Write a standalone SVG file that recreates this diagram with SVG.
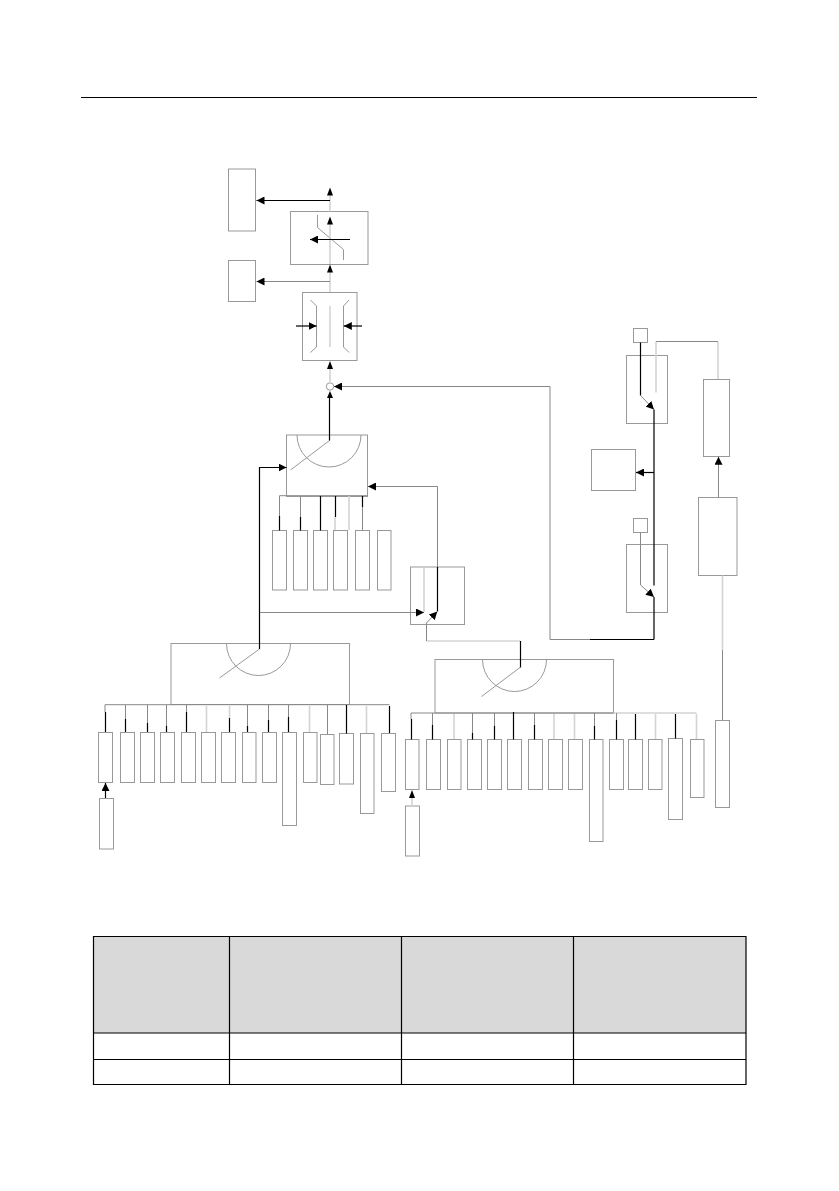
<svg xmlns="http://www.w3.org/2000/svg" width="839" height="1191" viewBox="0 0 839 1191">
<style>
.n{fill:#fff;stroke:#999;stroke-width:1}
.m{fill:none;stroke:#999;stroke-width:1}
.g{fill:none;stroke:#888;stroke-width:1}
.l{fill:none;stroke:#d4d4d4;stroke-width:1.6}
.k{fill:none;stroke:#000;stroke-width:1.2}
.t{fill:none;stroke:#000;stroke-width:1.2}
.h{fill:#d9d9d9;stroke:none}
.ah{fill:#000}
</style>
<defs>
<marker id="a" markerUnits="userSpaceOnUse" markerWidth="9" markerHeight="8" refX="8" refY="4" orient="auto"><path d="M0 0L8 4L0 8Z" fill="#000"/></marker>
</defs>
<path d="M81 97.5H757" stroke="#000" stroke-width="1" fill="none"/>
<g id="nodes-top">
<g id="out1"><rect class="n" x="228.5" y="169" width="27" height="62"/></g>
<g id="out2"><rect class="n" x="228.5" y="260.5" width="27" height="41"/></g>
<g id="limit"><rect class="n" x="290.5" y="211.5" width="77.5" height="53"/><path class="m" d="M317.5 215V227.5L343.5 249.5V260"/></g>
<g id="gain"><rect class="n" x="302.5" y="292.5" width="54.5" height="68"/><path class="m" d="M310.5 300L316.5 306V347L310.5 352.5M349 300L343.5 306V347L349 352.5"/></g>
<g id="sum"><circle class="n" cx="330" cy="386.5" r="3.7"/></g>
<g id="sel-mid"><rect class="n" x="286.5" y="435" width="81" height="61.5"/><path class="m" d="M297 435A32 32 0 0 0 361 435M329.5 440.5L290.5 470"/></g>
<g id="mid1"><rect class="n" x="272.5" y="530.5" width="14" height="59.5"/></g>
<g id="mid2"><rect class="n" x="293.5" y="530.5" width="14" height="59.5"/></g>
<g id="mid3"><rect class="n" x="313.5" y="530.5" width="14" height="59.5"/></g>
<g id="mid4"><rect class="n" x="333.5" y="530.5" width="14" height="59.5"/></g>
<g id="mid5"><rect class="n" x="355.5" y="530.5" width="14" height="59.5"/></g>
<g id="mid6"><rect class="n" x="377.5" y="530.5" width="13.5" height="59.5"/></g>
<g id="switch-mid"><rect class="n" x="410.5" y="567" width="54" height="57.5"/></g>
</g>
<g id="nodes-right">
<g id="sq1"><rect class="n" x="633.5" y="328.5" width="14" height="14"/></g>
<g id="sw1"><rect class="n" x="626.5" y="355.5" width="41" height="68"/></g>
<g id="mid-box"><rect class="n" x="591.5" y="449.5" width="44" height="41"/></g>
<g id="sq2"><rect class="n" x="633.5" y="518.5" width="14" height="14"/></g>
<g id="sw2"><rect class="n" x="626.5" y="544.5" width="41" height="68"/></g>
<g id="r1"><rect class="n" x="703.5" y="379.5" width="26" height="77"/></g>
<g id="r2"><rect class="n" x="698.5" y="497.5" width="38.5" height="78"/></g>
<g id="r3"><rect class="n" x="715.5" y="720.5" width="14" height="87"/></g>
</g>
<g id="nodes-left-row">
<g id="sel-left"><rect class="n" x="171" y="643.5" width="178.5" height="61"/><path class="m" d="M226.5 643.5A32 32 0 0 0 290.5 643.5M259.5 649L219.5 678"/></g>
<g id="a1"><rect class="n" x="98.500" y="732.5" width="14" height="50"/></g>
<g id="a2"><rect class="n" x="120.5" y="732.5" width="14" height="50"/></g>
<g id="a3"><rect class="n" x="140.5" y="732.5" width="14" height="50"/></g>
<g id="a4"><rect class="n" x="160.5" y="732.5" width="14" height="50"/></g>
<g id="a5"><rect class="n" x="181.5" y="732.5" width="14" height="50"/></g>
<g id="a6"><rect class="n" x="201.5" y="732.5" width="14" height="50"/></g>
<g id="a7"><rect class="n" x="221.5" y="732.5" width="14" height="50"/></g>
<g id="a8"><rect class="n" x="242.5" y="732.5" width="13.5" height="50"/></g>
<g id="a9"><rect class="n" x="262.5" y="732.5" width="14" height="50"/></g>
<g id="a10"><rect class="n" x="282.5" y="732.5" width="14" height="93"/></g>
<g id="a11"><rect class="n" x="303.5" y="732.5" width="13.5" height="50"/></g>
<g id="a12"><rect class="n" x="320.5" y="734.5" width="13.5" height="50"/></g>
<g id="a13"><rect class="n" x="339.5" y="733.5" width="14" height="50.5"/></g>
<g id="a14"><rect class="n" x="360.5" y="733.5" width="13.5" height="80"/></g>
<g id="a15"><rect class="n" x="381.5" y="733.5" width="14" height="58"/></g>
<g id="a-in"><rect class="n" x="99.5" y="798.5" width="14" height="50.5"/></g>
</g>
<g id="nodes-right-row">
<g id="sel-right"><rect class="n" x="435" y="659.5" width="178.5" height="53.5"/><path class="m" d="M482.5 659.5A32 32 0 0 0 546.5 659.5M520 667.5L481.5 696.5"/></g>
<g id="b1"><rect class="n" x="405.5" y="739.5" width="13.5" height="50"/></g>
<g id="b2"><rect class="n" x="426.5" y="739.5" width="14" height="50"/></g>
<g id="b3"><rect class="n" x="447.5" y="739.5" width="13.5" height="50"/></g>
<g id="b4"><rect class="n" x="467.5" y="739.5" width="14" height="50"/></g>
<g id="b5"><rect class="n" x="487.5" y="739.5" width="14" height="50"/></g>
<g id="b6"><rect class="n" x="507.5" y="739.5" width="14" height="50"/></g>
<g id="b7"><rect class="n" x="528.5" y="739.5" width="14" height="50"/></g>
<g id="b8"><rect class="n" x="548.5" y="739.5" width="14" height="50"/></g>
<g id="b9"><rect class="n" x="568.5" y="739.5" width="14" height="50"/></g>
<g id="b10"><rect class="n" x="589.5" y="739.5" width="13.5" height="102"/></g>
<g id="b11"><rect class="n" x="609.5" y="739.5" width="14" height="50"/></g>
<g id="b12"><rect class="n" x="628.5" y="739.5" width="14" height="50"/></g>
<g id="b13"><rect class="n" x="648.5" y="739.5" width="13.5" height="50"/></g>
<g id="b14"><rect class="n" x="668.5" y="738.5" width="14" height="81"/></g>
<g id="b15"><rect class="n" x="690.5" y="739.5" width="13.5" height="58"/></g>
<g id="b-in"><rect class="n" x="405.5" y="806" width="14" height="50"/></g>
</g>
<g id="connectors">
<path class="l" d="M330 211.500V194M330 264V223M330 292V271M330 383V368M330 306V347"/>
<path class="l" d="M424 567V612M656 392.500V341.500M718 342V379M722.500 575.500V650M613.500 713H696.500"/>
<path class="l" d="M426.500 641H520"/>
<path class="g" d="M426.500 623V641M722.500 650V720"/>
<path class="k" marker-end="url(#a)" d="M330 200.500H256.500"/>
<path class="g" marker-end="url(#a)" d="M330 281.500H256.500"/>
<path class="k" marker-end="url(#a)" d="M350 239.500H310"/>
<path class="k" marker-end="url(#a)" d="M296 326H316.500"/>
<path class="k" marker-end="url(#a)" d="M362 326H343.800"/>
<path class="ah" d="M330 187.500l-3 8h6zM330 216.500l-3 8h6zM330 264.500l-3 8h6zM330 361l-3 8h6zM330 391l-3 7h6z"/>
<path class="k" d="M329.500 396V440.500"/>
<path class="k" marker-end="url(#a)" d="M259.500 649V467.500H286.500"/>
<path class="g" marker-end="url(#a)" d="M550 639.500V386.500H334"/>
<path class="g" d="M550 639.500H590"/>
<path class="k" d="M654 639.500H590"/>
<path class="k" d="M654 639.500V597M654 585.500V409.500"/>
<path class="k" marker-end="url(#a)" d="M654 472.500H636"/>
<path class="k" d="M640.500 342.500V395.500"/>
<path class="g" marker-end="url(#a)" d="M640.500 395.500L654 409.500"/>
<path class="g" d="M640.500 532.500V585"/>
<path class="g" marker-end="url(#a)" d="M640.500 585L654 597"/>
<path class="g" marker-end="url(#a)" d="M718.500 497.500V456.800"/>
<path class="g" d="M656 341.500H718"/>
<path class="g" marker-end="url(#a)" d="M260 612.500H424"/>
<path class="g" marker-end="url(#a)" d="M437.500 567V486.500H368"/>
<path class="k" d="M437.500 567V611.500"/>
<path class="g" marker-end="url(#a)" d="M426.500 623L437.300 611.500"/>
<path class="k" d="M520.500 641V667.500"/>
<path class="g" d="M279.500 516V495.700H367.500M300.500 496V517M362.500 507V530"/>
<path class="l" d="M349 496V530M335 517V530"/>
<path class="k" d="M279.500 516V530.500M300.500 517V530.500M320.500 496V530.500M335.500 496V517M362.500 496V507"/>
<path class="g" d="M105 712V704.700H389.500M125.500 705V719M147.500 705V723M166.500 705V726M186.500 705V712M247.500 705V726M268.500 705V720M288.500 705V717M327.500 705V734"/>
<path class="l" d="M206.500 706V732M229.500 706V718M309.500 706V732M366.500 706V733"/>
<path class="k" d="M105.500 712V732M125.500 719V732M147.500 723V732M166.500 726V732M186.500 712V732M229.500 718V732M247.500 726V732M268.500 720V732M288.500 717V732M346.500 705V733.500M389.500 706V733"/>
<path class="k" marker-end="url(#a)" d="M105.500 798V783"/>
<path class="g" d="M411 719V713H613.500M432.500 713V725M472.500 713V733M494.500 713V726M534.500 713V725M594.500 713V726M616.500 713V720"/>
<path class="l" d="M454 714V739M554 714V739M574.500 714V739M655.500 714V739M696.500 714V739"/>
<path class="k" d="M411.500 719V739.500M432.500 725V739.500M472.500 733V739.500M494.500 726V739.500M513.500 712V739.500M534.500 725V739.500M594.500 726V739.500M616.500 720V739.500M635.500 714V739.500M675.500 714V738.500"/>
<path class="l" d="M412 806V796"/>
<path class="ah" d="M412 790l-3 8h6z"/>
</g>
<g id="table">
<rect class="h" x="94" y="937" width="652" height="96"/>
<path class="t" d="M93.500 936.500H746V1084.500H93.500ZM93.500 1033H746M93.500 1059.500H746M229.500 936.500V1084.500M401.500 936.500V1084.500M573.500 936.500V1084.500"/>
</g>
</svg>
